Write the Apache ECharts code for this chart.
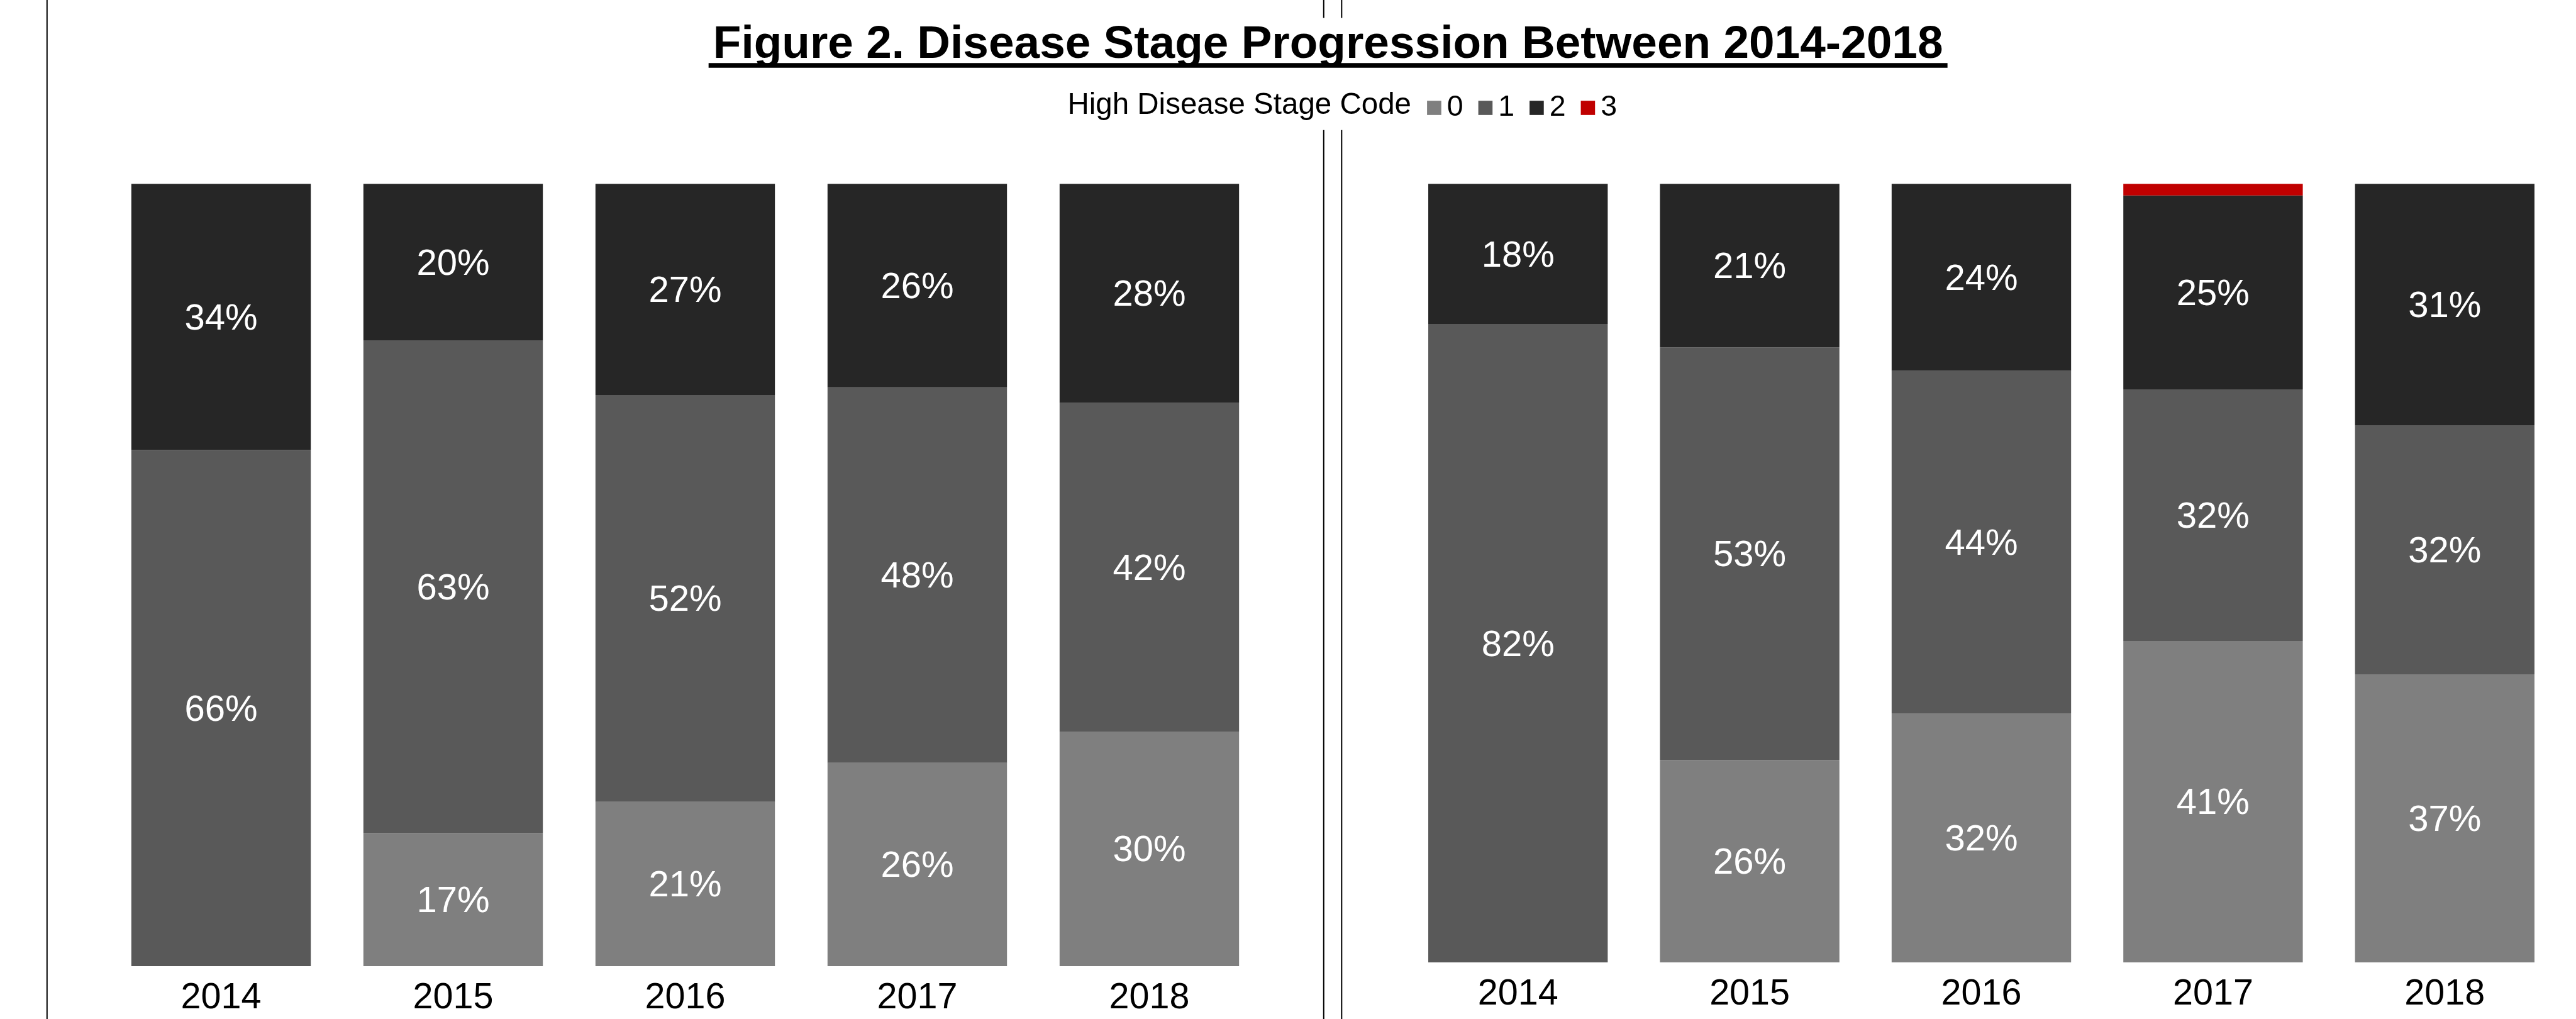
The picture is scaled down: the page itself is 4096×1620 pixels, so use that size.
<!DOCTYPE html>
<html><head><meta charset="utf-8">
<script src="https://cdn.jsdelivr.net/npm/echarts@6/dist/echarts.min.js"></script>
<style>html,body{margin:0;padding:0;background:#fff}#c{width:4096px;height:1620px}</style>
</head><body><div id="c"></div>
<script>
// ---- data ----
const years = ['2014', '2015', '2016', '2017', '2018'];
const stageNames = ['0', '1', '2', '3'];
const leftStage0 = [0, 17, 21, 26, 30];
const leftStage1 = [66, 63, 52, 48, 42];
const leftStage2 = [34, 20, 27, 26, 28];
const rightStage0 = [0, 26, 32, 41.3, 37];
const rightStage1 = [82, 53, 44, 32.3, 32];
const rightStage2 = [18, 21, 24, 24.9, 31];
const rightStage3 = [0, 0, 0, 1.5, 0];
const titleText = 'Figure 2. Disease Stage Progression Between 2014-2018';
const legendTitle = 'High Disease Stage Code';

// ---- style ----
const S = 0.984;
const FONT = '"Liberation Sans", Arial, sans-serif';
const colors = ['#7f7f7f', '#595959', '#262626', '#c00000'];

function mkSeries(stageIdx, data, gridIdx) {
  return {
    name: stageNames[stageIdx],
    type: 'bar',
    stack: 'g' + gridIdx,
    xAxisIndex: gridIdx,
    yAxisIndex: gridIdx,
    data: data,
    barWidth: 290 * S,
    itemStyle: { color: colors[stageIdx] },
    label: {
      show: stageIdx < 3,
      position: 'inside',
      offset: [0, 4],
      color: '#fff',
      fontFamily: FONT,
      fontSize: 58,
      formatter: p => (p.value > 0 ? Math.round(p.value) + '%' : '')
    },
    emphasis: { disabled: true }
  };
}

const chart = echarts.init(document.getElementById('c'), null, { renderer: 'canvas' });

const xAxisBase = {
  type: 'category',
  data: years,
  axisLine: { show: false },
  axisTick: { show: false },
  axisLabel: { color: '#000', fontFamily: FONT, fontSize: 57.5, margin: 22 }
};
const yAxisBase = { type: 'value', min: 0, max: 100, show: false, splitLine: { show: false } };

const option = {
  backgroundColor: '#fff',
  animation: false,
  grid: [
    { left: 167, top: 297 * S, width: 1845, height: 1264 * S, containLabel: false, outerBoundsMode: 'none' },
    { left: 2229.5, top: 297 * S, width: 1842, height: 1258 * S, containLabel: false, outerBoundsMode: 'none' }
  ],
  xAxis: [
    Object.assign({ gridIndex: 0 }, xAxisBase),
    Object.assign({ gridIndex: 1 }, xAxisBase)
  ],
  yAxis: [
    Object.assign({ gridIndex: 0 }, yAxisBase),
    Object.assign({ gridIndex: 1 }, yAxisBase)
  ],
  legend: {
    data: stageNames,
    left: 2306 * S,
    top: 148,
    padding: 0,
    icon: 'rect',
    itemWidth: 23 * S,
    itemHeight: 23 * S,
    itemGap: 24,
    selectedMode: false,
    textStyle: { color: '#000', fontFamily: FONT, fontSize: 46.5, padding: [0, 0, 0, 4] }
  },
  graphic: [
    { type: 'line', shape: { x1: 76 * S, y1: 0, x2: 76 * S, y2: 1620 }, style: { stroke: '#000', lineWidth: 2 } },
    { type: 'line', shape: { x1: 2139 * S, y1: 0, x2: 2139 * S, y2: 29 * S }, style: { stroke: '#000', lineWidth: 2 } },
    { type: 'line', shape: { x1: 2139 * S, y1: 210 * S, x2: 2139 * S, y2: 1620 }, style: { stroke: '#000', lineWidth: 2 } },
    { type: 'line', shape: { x1: 2168 * S, y1: 0, x2: 2168 * S, y2: 29 * S }, style: { stroke: '#000', lineWidth: 2 } },
    { type: 'line', shape: { x1: 2168 * S, y1: 210 * S, x2: 2168 * S, y2: 1620 }, style: { stroke: '#000', lineWidth: 2 } },
    {
      type: 'text', x: 2146 * S, y: 73 * S,
      style: { text: titleText, fontFamily: FONT, fontWeight: 'bold', fontSize: 73, fill: '#000',
        align: 'center', verticalAlign: 'middle', textAlign: 'center', textVerticalAlign: 'middle' }
    },
    { type: 'rect', shape: { x: 1145 * S, y: 102 * S, width: (3147 - 1145) * S, height: 7.5 * S }, style: { fill: '#000' } },
    {
      type: 'text', x: 1725 * S, y: 171 * S,
      style: { text: legendTitle, fontFamily: FONT, fontSize: 47.5, fill: '#000',
        align: 'left', verticalAlign: 'middle', textAlign: 'left', textVerticalAlign: 'middle' }
    }
  ],
  series: [
    mkSeries(0, leftStage0, 0),
    mkSeries(1, leftStage1, 0),
    mkSeries(2, leftStage2, 0),
    mkSeries(0, rightStage0, 1),
    mkSeries(1, rightStage1, 1),
    mkSeries(2, rightStage2, 1),
    mkSeries(3, rightStage3, 1)
  ]
};
chart.setOption(option);
</script></body></html>
